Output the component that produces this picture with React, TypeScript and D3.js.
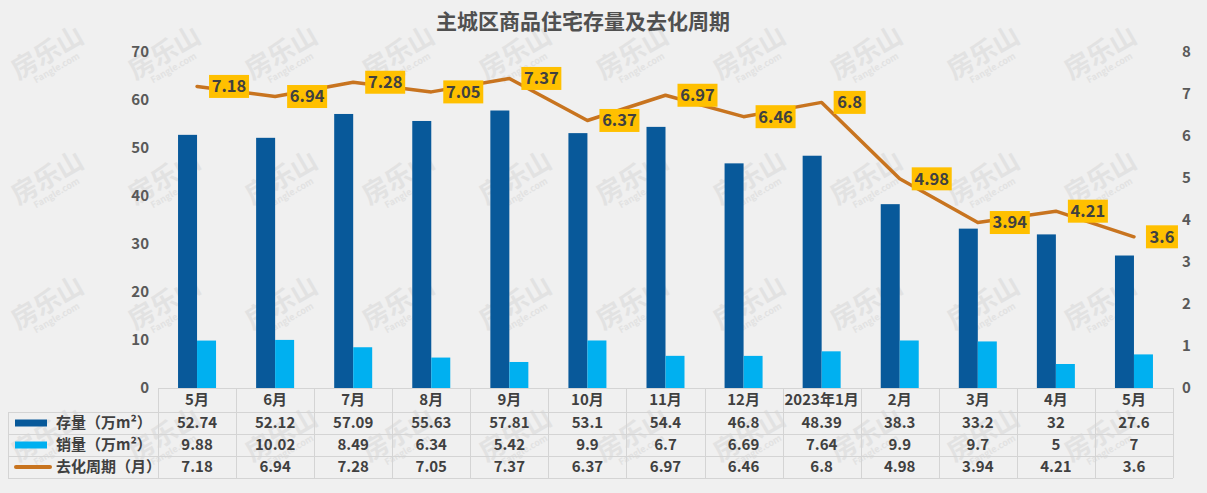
import React from "react";
import * as d3 from "d3";

// Monthly figures for the main urban district
const categories = ["5月", "6月", "7月", "8月", "9月", "10月", "11月", "12月", "2023年1月", "2月", "3月", "4月", "5月"];
const stock = [52.74, 52.12, 57.09, 55.63, 57.81, 53.1, 54.4, 46.8, 48.39, 38.3, 33.2, 32, 27.6];
const sales = [9.88, 10.02, 8.49, 6.34, 5.42, 9.9, 6.7, 6.69, 7.64, 9.9, 9.7, 5, 7];
const cycle = [7.18, 6.94, 7.28, 7.05, 7.37, 6.37, 6.97, 6.46, 6.8, 4.98, 3.94, 4.21, 3.6];
const leftTicks = [0, 10, 20, 30, 40, 50, 60, 70];
const rightTicks = [0, 1, 2, 3, 4, 5, 6, 7, 8];
const seriesNames = ["存量（万m²）", "销量（万m²）", "去化周期（月）"];

const W = 1207;
const H = 493;
const FONT = "'Noto Sans CJK SC', 'Noto Sans', sans-serif";
const DARK = "#08599a";
const LIGHT = "#00b0f0";
const LINE = "#c8741f";
const TEXT = "#404040";
const GRID = "#d4d4d4";

export default function App() {
  const plotLeft = 158;
  const plotRight = 1173;
  const x = d3.scaleBand<number>().domain(d3.range(categories.length)).range([plotLeft, plotRight]);
  const yL = d3.scaleLinear().domain([0, 70]).range([388, 52]);
  const yR = d3.scaleLinear().domain([0, 8]).range([388, 52]);
  const barW = 19;
  const cx = (i: number) => (x(i) as number) + x.bandwidth() / 2;

  const line = d3
    .line<number>()
    .x((_, i) => cx(i))
    .y((d) => yR(d));

  const rowTop = [388, 412, 434, 456, 478];
  const rowMid = (r: number) => (rowTop[r] + rowTop[r + 1]) / 2;
  const rows = [stock, sales, cycle];

  // site watermark tiled faintly behind the chart
  const marks: [number, number][] = [];
  [80, 205, 330, 462].forEach((my) => {
    for (let c = 0; c < 10; c++) marks.push([18 + c * 117, my]);
  });

  return (
    <svg width={W} height={H} style={{ position: "absolute", left: 0, top: 0, display: "block" }} fontFamily={FONT}>
      <rect x={0} y={0} width={W} height={H} fill="#f0f0f0" />
      {marks.map(([mx, my], k) => (
        <g key={"w" + k} transform={`translate(${mx},${my}) rotate(-30)`} fill="#e2e2e2">
          <text x={0} y={0} fontSize={26} fontWeight="bold">房乐山</text>
          <text x={14} y={12} fontSize={9} fontWeight="bold">Fangle.com</text>
        </g>
      ))}
      <text x={583} y={29} textAnchor="middle" fontSize={21} fontWeight="bold" fill="#505050">
        主城区商品住宅存量及去化周期
      </text>

      {/* left axis */}
      {leftTicks.map((t) => (
        <text key={"l" + t} x={149} y={yL(t)} dy="0.36em" textAnchor="end" fontSize={15} fontWeight="bold" fill="#595959">
          {t}
        </text>
      ))}
      {/* right axis */}
      {rightTicks.map((t) => (
        <text key={"r" + t} x={1182} y={yR(t)} dy="0.36em" textAnchor="start" fontSize={15} fontWeight="bold" fill="#595959">
          {t}
        </text>
      ))}

      {/* bars */}
      {stock.map((v, i) => (
        <rect key={"s" + i} x={cx(i) - barW} y={yL(v)} width={barW} height={yL(0) - yL(v)} fill={DARK} />
      ))}
      {sales.map((v, i) => (
        <rect key={"v" + i} x={cx(i)} y={yL(v)} width={barW} height={yL(0) - yL(v)} fill={LIGHT} />
      ))}

      {/* clearance cycle line */}
      <path d={line(cycle) || ""} fill="none" stroke={LINE} strokeWidth={3.5} strokeLinejoin="round" strokeLinecap="round" />
      {cycle.map((v, i) => {
        const label = String(v);
        const w = label.length * 8 + 8;
        const bx = cx(i) + 12;
        const by = yR(v);
        return (
          <g key={"c" + i}>
            <rect x={bx} y={by - 11.5} width={w} height={23} fill="#ffc000" />
            <text x={bx + w / 2} y={by} dy="0.36em" textAnchor="middle" fontSize={16.5} fontWeight="bold" fill={TEXT}>
              {label}
            </text>
          </g>
        );
      })}

      {/* data table */}
      <g stroke={GRID} strokeWidth={1}>
        <line x1={plotLeft} x2={plotRight} y1={rowTop[0] + 0.5} y2={rowTop[0] + 0.5} />
        {rowTop.slice(1).map((y, k) => (
          <line key={"h" + k} x1={8} x2={plotRight} y1={y + 0.5} y2={y + 0.5} />
        ))}
        <line x1={8.5} x2={8.5} y1={rowTop[1]} y2={rowTop[4]} />
        {d3.range(categories.length + 1).map((i) => {
          const xx = Math.round(plotLeft + i * x.bandwidth()) + 0.5;
          return <line key={"v" + i} x1={xx} x2={xx} y1={rowTop[0]} y2={rowTop[4]} />;
        })}
      </g>
      {categories.map((c, i) => (
        <text key={"cat" + i} x={cx(i)} y={rowMid(0)} dy="0.36em" textAnchor="middle" fontSize={15} fontWeight="bold" fill={TEXT}>
          {c}
        </text>
      ))}
      {rows.map((vals, r) =>
        vals.map((v, i) => (
          <text key={"t" + r + "-" + i} x={cx(i)} y={rowMid(r + 1)} dy="0.36em" textAnchor="middle" fontSize={15} fontWeight="bold" fill={TEXT}>
            {v}
          </text>
        ))
      )}
      {/* legend keys */}
      <rect x={15} y={rowMid(1) - 3.5} width={32} height={7} fill={DARK} />
      <rect x={15} y={rowMid(2) - 3.5} width={32} height={7} fill={LIGHT} />
      <line x1={16} x2={50} y1={rowMid(3)} y2={rowMid(3)} stroke={LINE} strokeWidth={4} strokeLinecap="round" />
      {seriesNames.map((n, r) => (
        <text key={"n" + r} x={56} y={rowMid(r + 1)} dy="0.36em" fontSize={15} fontWeight="bold" fill={TEXT}>
          {n}
        </text>
      ))}
    </svg>
  );
}
